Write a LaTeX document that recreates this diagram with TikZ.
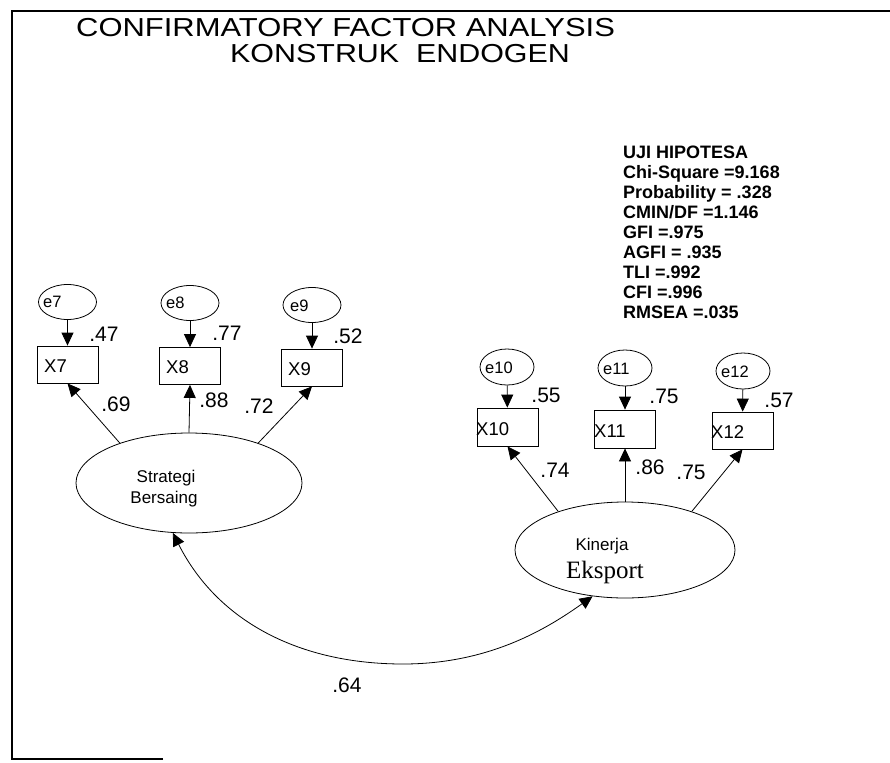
\documentclass[tikz,border=0pt]{standalone}
\usepackage{fontspec}
\setmainfont{Liberation Sans}
\newfontfamily\ekserif{Liberation Serif}
\usetikzlibrary{shapes.geometric,arrows.meta}
\begin{document}
\begin{tikzpicture}[x=1pt,y=-1pt,
  err/.style={draw,ellipse,minimum width=58pt,minimum height=35pt,inner sep=0pt,line width=0.8pt},
  obs/.style={draw,rectangle,minimum width=61pt,minimum height=37pt,inner sep=0pt,line width=0.8pt},
  lat/.style={draw,ellipse,inner sep=0pt,line width=0.8pt},
  etxt/.style={font=\fontsize{16.5}{16.5}\selectfont,anchor=west,inner sep=0pt},
  xtxt/.style={font=\fontsize{18.5}{18.5}\selectfont,anchor=west,inner sep=0pt},
  coef/.style={font=\fontsize{21}{21}\selectfont,inner sep=0pt},
  ttl/.style={font=\fontsize{26}{26}\selectfont,anchor=base west,inner sep=0pt,text height=19pt,text depth=0pt},
  arr/.style={-{Triangle[length=13pt,width=12pt]},line width=0.8pt},
  frame/.style={line width=1.4pt},
]
\useasboundingbox (0,0) rectangle (890,762);
\fill[white] (0,0) rectangle (890,762);
% frame
\coordinate (fbr) at (163,759);
\coordinate (fbl) at (12,759);
\coordinate (ftl) at (12,11);
\coordinate (ftr) at (890,11);
\draw[frame] (fbr) -- (fbl) -- (ftl) -- (ftr);
% title
\node[ttl] (t1) at (76,37) {\scalebox{1.19}[1]{CONFIRMATORY FACTOR ANALYSIS}};
\node[ttl] (t2) at (230,63) {\scalebox{1.17}[1]{KONSTRUK\ \ ENDOGEN}};
% stats
\node[font=\bfseries\fontsize{18}{20}\selectfont,anchor=north west,align=left,inner sep=0pt] (stats) at (623,146)
  {UJI HIPOTESA\\Chi-Square =9.168\\Probability = .328\\CMIN/DF =1.146\\GFI =.975\\AGFI = .935\\TLI =.992\\CFI =.996\\RMSEA =.035};
% left group
\node[err] (e7) at (67.5,302) {};
\node[err] (e8) at (190,303) {};
\node[err] (e9) at (312,305) {};
\node[etxt] (e7t) at (43,302) {e7};
\node[etxt] (e8t) at (166,303) {e8};
\node[etxt] (e9t) at (290,306) {e9};
\node[obs] (x7) at (67.5,364.5) {};
\node[obs] (x8) at (190,366) {};
\node[obs] (x9) at (312,367.5) {};
\node[xtxt] (x7t) at (44,366) {X7};
\node[xtxt] (x8t) at (166,367) {X8};
\node[xtxt] (x9t) at (288,369) {X9};
\node[lat,minimum width=226pt,minimum height=100pt] (sb) at (189,483) {};
\node[font=\fontsize{17}{17}\selectfont,anchor=base,inner sep=0pt] (sbt1) at (166,482) {Strategi};
\node[font=\fontsize{17}{17}\selectfont,anchor=base,inner sep=0pt] (sbt2) at (164,503) {Bersaing};
% right group
\node[err,minimum width=54pt,minimum height=36pt] (e10) at (507,367) {};
\node[err,minimum width=54pt,minimum height=36pt] (e11) at (625,368) {};
\node[err,minimum width=54pt,minimum height=36pt] (e12) at (743,371) {};
\node[etxt] (e10t) at (485,368) {e10};
\node[etxt] (e11t) at (603,369) {e11};
\node[etxt] (e12t) at (721,372) {e12};
\node[obs,minimum height=38pt] (x10) at (507.5,427) {};
\node[obs,minimum height=38pt] (x11) at (625,429) {};
\node[obs,minimum height=37pt] (x12) at (742.5,430.5) {};
\node[xtxt] (x10t) at (476,429) {X10};
\node[xtxt] (x11t) at (594,431) {X11};
\node[xtxt] (x12t) at (711,432) {X12};
\node[lat,minimum width=220pt,minimum height=96pt] (ke) at (625,550) {};
\node[font=\fontsize{17}{17}\selectfont,anchor=base,inner sep=0pt] (ket1) at (602,550) {Kinerja};
\node[font=\ekserif\fontsize{25}{25}\selectfont,anchor=base,inner sep=0pt] (ket2) at (605,578) {Eksport};
% error arrows
\draw[arr] (e7) -- (x7);
\draw[arr] (e8) -- (x8);
\draw[arr] (e9) -- (x9);
\draw[arr] (e10) -- (x10);
\draw[arr] (e11) -- (x11);
\draw[arr] (e12) -- (x12);
% loadings
\draw[arr] (sb.150) -- (x7.south);
\draw[arr] (sb.north) -- (x8.south);
\draw[arr] (sb.30) -- (x9.south);
\draw[arr] (ke.150) -- (x10.south);
\draw[arr] (ke.north) -- (x11.south);
\draw[arr] (ke.30) -- (x12.south);
% correlation
\coordinate (cmin) at (403,664);
\draw[arr,{Triangle[length=13pt,width=12pt]}-{Triangle[length=13pt,width=12pt]}]
  (sb.252) .. controls (218,622) and (300,664) .. (cmin)
  .. controls (490,664) and (548,628) .. (ke.235);
% coefficients
\node[coef] (c47) at (104,334) {.47};
\node[coef] (c77) at (227,333) {.77};
\node[coef] (c52) at (348,336) {.52};
\node[coef] (c69) at (116,404) {.69};
\node[coef] (c88) at (214,400) {.88};
\node[coef] (c72) at (259,406) {.72};
\node[coef] (c55) at (546,395) {.55};
\node[coef] (c75a) at (664,396) {.75};
\node[coef] (c57) at (779,400) {.57};
\node[coef] (c74) at (555,470) {.74};
\node[coef] (c86) at (650,467) {.86};
\node[coef] (c75b) at (691,472) {.75};
\node[coef] (c64) at (347,685) {.64};
\end{tikzpicture}
\end{document}
